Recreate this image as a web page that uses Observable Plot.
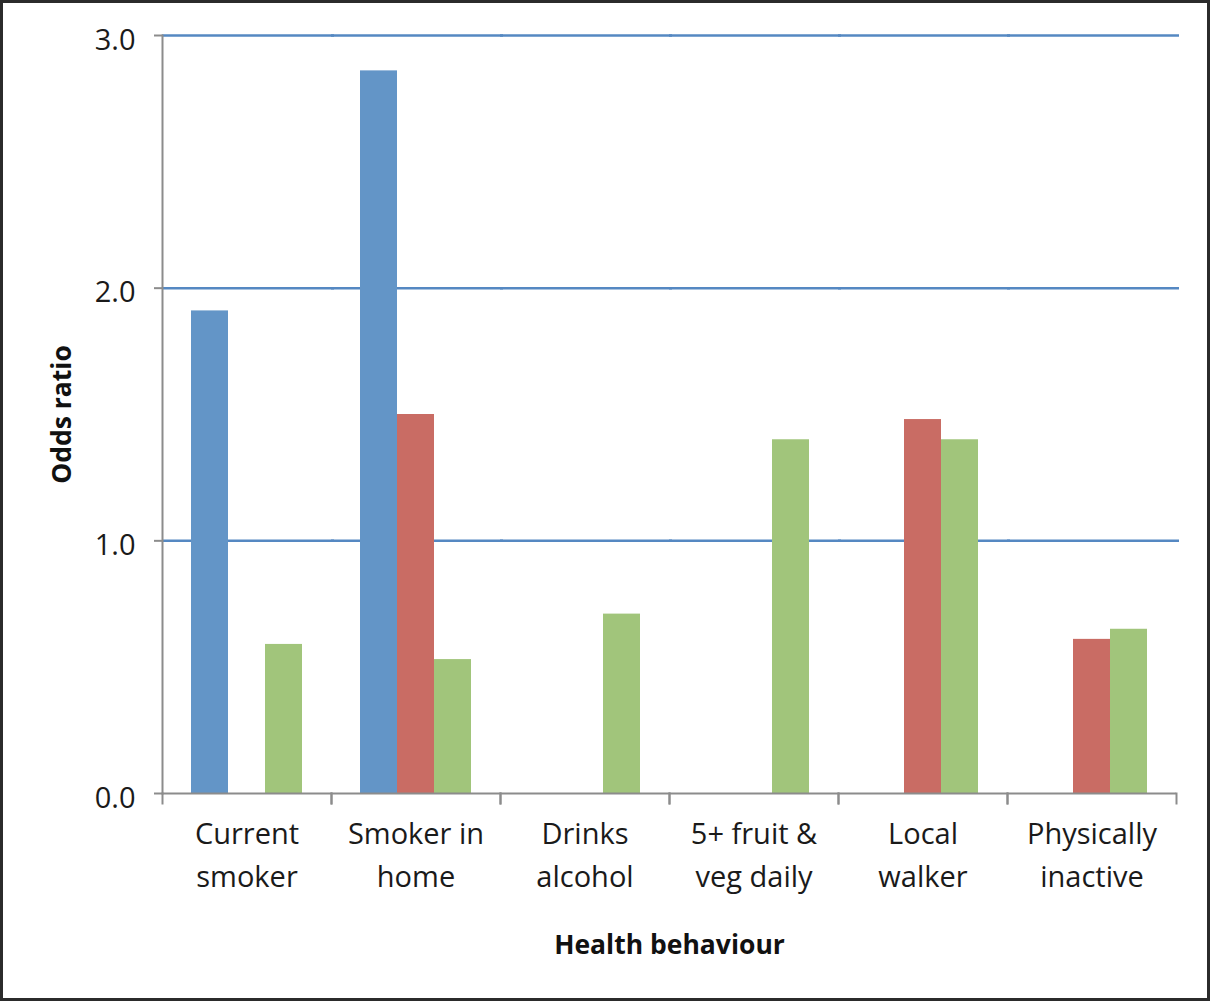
<!DOCTYPE html>
<html><head><meta charset="utf-8">
<script src="https://cdn.jsdelivr.net/npm/d3@7"></script>
<script src="https://cdn.jsdelivr.net/npm/@observablehq/plot@0.6"></script>
<style>
html,body{margin:0;padding:0;background:#fff;}
#wrap{position:relative;width:1210px;height:1001px;overflow:hidden;}
#frame{position:absolute;left:0;top:0;width:1210px;height:1001px;box-sizing:border-box;border:3px solid #2b2b2b;pointer-events:none;}
#chart{position:absolute;left:0;top:0;}
</style></head><body>
<div id="wrap"><div id="chart"></div><div id="frame"></div></div>
<script>
const categories = ["Current smoker", "Smoker in home", "Drinks alcohol", "5+ fruit & veg daily", "Local walker", "Physically inactive"];
const tickLabels = ["Current\nsmoker", "Smoker in\nhome", "Drinks\nalcohol", "5+ fruit &\nveg daily", "Local\nwalker", "Physically\ninactive"];
const series = ["Series 1", "Series 2", "Series 3"];
const series1 = [1.91, 2.86, null, null, null, null];
const series2 = [null, 1.50, null, null, 1.48, 0.61];
const series3 = [0.59, 0.53, 0.71, 1.40, 1.40, 0.65];
const yTicks = [0, 1, 2, 3];
const colors = ["#6395c7", "#c96c64", "#a1c57b"];

const data = [];
[series1, series2, series3].forEach((vals, j) => vals.forEach((v, i) => {
  if (v != null) data.push({category: categories[i], series: series[j], value: v});
}));

const W = 1210, H = 1001, mT = 35, mB = 208, mL = 160, mR = 32;
const plotH = H - mT - mB;
const gray = "#8c8c8c";
const font = "'Open Sans', Lato, sans-serif";

const chart = Plot.plot({
  width: W, height: H, marginTop: mT, marginBottom: mB, marginLeft: mL, marginRight: mR,
  style: {fontFamily: font, color: "#1a1a1a", background: "transparent"},
  fx: {domain: categories, padding: 0, label: null, axis: null},
  x: {domain: series, paddingInner: 0, paddingOuter: 0.76, axis: null},
  y: {domain: [0, 3], label: null, axis: null},
  color: {domain: series, range: colors},
  marks: [
    Plot.ruleY(yTicks.filter(d => d > 0), {stroke: "#5588c2", strokeWidth: 2.5, insetRight: -3}),
    Plot.barY(data, {fx: "category", x: "series", y: "value", fill: "series"}),
    Plot.ruleY([0], {stroke: gray, strokeWidth: 2}),
    Plot.frame({anchor: "left", facetAnchor: "left", stroke: gray, strokeWidth: 2}),
    Plot.frame({anchor: "left", insetTop: plotH, insetBottom: -10, stroke: gray, strokeWidth: 2}),
    Plot.frame({anchor: "right", insetTop: plotH, insetBottom: -10, stroke: gray, strokeWidth: 2}),
    Plot.axisY({ticks: yTicks, tickFormat: () => "", tickSize: 8, label: null, stroke: gray, strokeWidth: 2}),
    Plot.axisY({ticks: yTicks, tickFormat: d3.format(".1f"), tickSize: 0, tickPadding: 27, fontSize: 29, dy: 5, label: null, fill: "#1a1a1a"}),
    Plot.axisY({ticks: [], label: "Odds ratio", labelAnchor: "center", labelArrow: "none", labelOffset: 110, fontSize: 26.5, fontWeight: "bold", fill: "#111"}),
    Plot.axisFx({anchor: "bottom", tickSize: 0, tickPadding: 20, tickFormat: d => tickLabels[categories.indexOf(d)], fontSize: 29, lineHeight: 1.48, label: null, fill: "#1a1a1a"}),
    Plot.axisFx({anchor: "bottom", ticks: [], label: "Health behaviour", labelAnchor: "center", labelArrow: "none", labelOffset: 160, fontSize: 26.5, fontWeight: "bold", fill: "#111"})
  ]
});
document.getElementById("chart").appendChild(chart);
</script>
</body></html>
